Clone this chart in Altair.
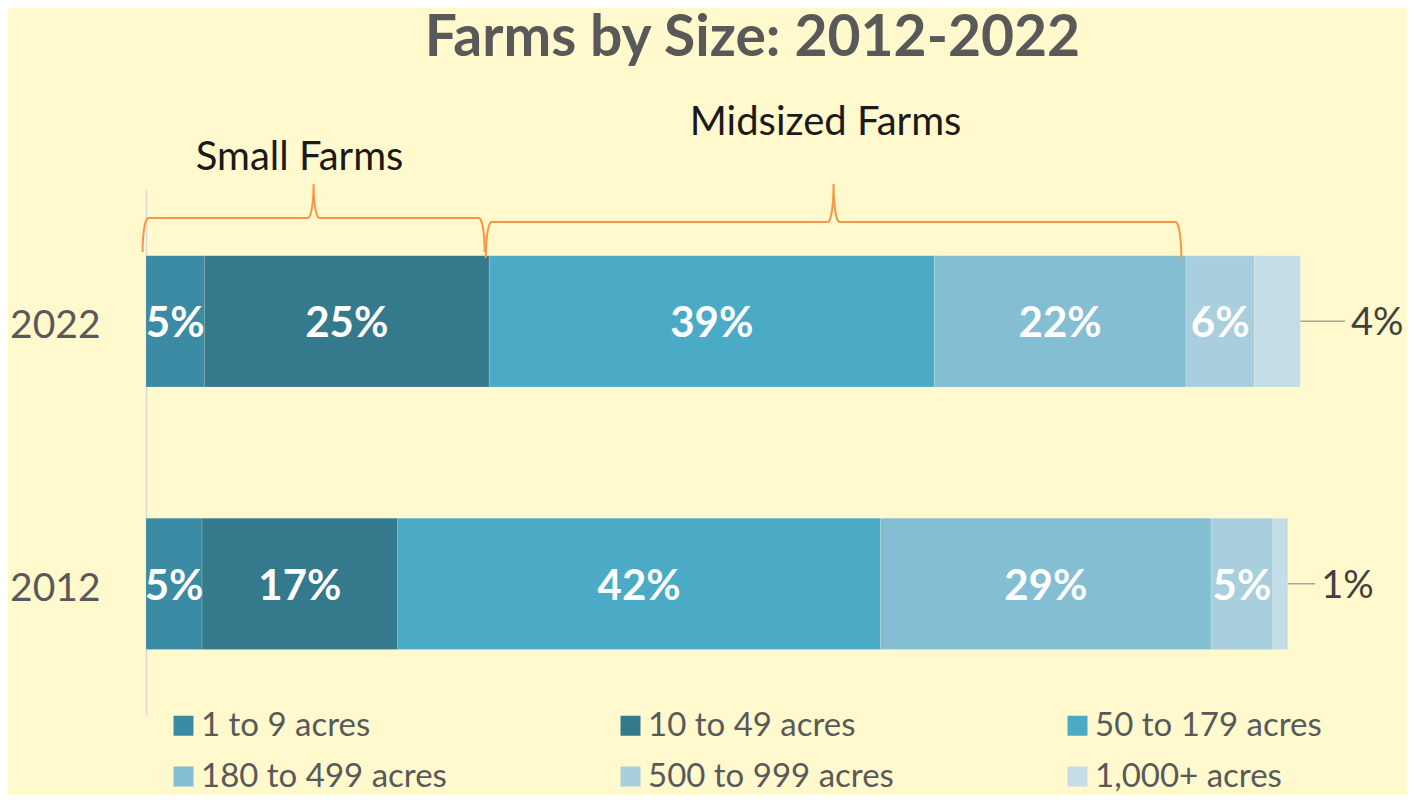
import altair as alt
import pandas as pd
import numpy as np

# ---------------- data ----------------
years = ["2022", "2012"]
categories = ["1 to 9 acres", "10 to 49 acres", "50 to 179 acres",
              "180 to 499 acres", "500 to 999 acres", "1,000+ acres"]
share_2022 = [5.1, 24.9, 38.9, 22.0, 6.0, 4.0]
share_2012 = [4.9, 17.1, 42.2, 28.9, 5.4, 1.3]
group_names = ["Small Farms", "Midsized Farms"]
group_members = [[0, 1], [2, 3]]

# ---------------- styles ----------------
colors = ["#3b8ba5", "#34798c", "#4babc7", "#84bed2", "#a9cfde", "#c5dde7"]
BG = "#fff9cd"
FONT = "Lato"
W, H = 1247, 525
XMAX = 109
leader_len = {"2022": 3.9, "2012": 2.4}
brace_style = {"Small Farms": dict(tip=62, line=28, peak=-6, text_y=-20, text_dx=-14),
               "Midsized Farms": dict(tip=68, line=32, peak=-6, text_y=-55, text_dx=-8)}
CURL = 0.5

rows = []
for yr, vals in zip(years, [share_2022, share_2012]):
    start = 0.0
    for i, (c, v) in enumerate(zip(categories, vals)):
        rows.append(dict(year=yr, category=c, idx=i, start=start, end=start + v,
                         mid=start + v / 2, label=f"{round(v)}%",
                         lead_end=start + v + leader_len[yr]))
        start += v
df = pd.DataFrame(rows)

# braces built from the 2022 cumulative positions
cum = np.cumsum([0] + share_2022)
brace_rows, brace_text = [], []
th = np.linspace(0, np.pi / 2, 14)
for g, mem in zip(group_names, group_members):
    st = brace_style[g]
    x0 = cum[mem[0]] - 0.3
    x1 = cum[mem[-1] + 1] - 0.4
    xm = (x0 + x1) / 2
    tip, line, peak = st["tip"], st["line"], st["peak"]
    pts = []
    pts += [(x0 + CURL * (1 - np.cos(t)), tip - (tip - line) * np.sin(t)) for t in th]
    pts += [(xm - CURL + CURL * np.sin(t), line - (line - peak) * (1 - np.cos(t))) for t in th]
    pts += [(xm + CURL - CURL * np.sin(t), line - (line - peak) * (1 - np.cos(t))) for t in th[::-1]]
    pts += [(x1 - CURL * (1 - np.cos(t)), tip - (tip - line) * np.sin(t)) for t in th[::-1]]
    for k, (px, py) in enumerate(pts):
        brace_rows.append(dict(group=g, seq=k, bx=px, by=py))
    brace_text.append(dict(group=g, bx=xm + st["text_dx"] * XMAX / W, by=st["text_y"]))
bdf = pd.DataFrame(brace_rows)
tdf = pd.DataFrame(brace_text)

xscale = alt.Scale(domain=[0, XMAX], nice=False, zero=False)
yenc = alt.Y("year:N", sort=years,
             scale=alt.Scale(paddingInner=0.5, paddingOuter=0.25),
             axis=alt.Axis(title=None, ticks=False, labelFontSize=39, labelFont=FONT,
                           labelColor="#595959", labelPadding=46, labelOffset=5,
                           domainColor="#d9d9d9", domainWidth=1.5, grid=False))

base = alt.Chart(df)

bars = base.mark_bar(stroke="#ffffff", strokeWidth=0.5, strokeOpacity=0.25).encode(
    x=alt.X("start:Q", scale=xscale, axis=None),
    x2="end:Q",
    y=yenc,
    color=alt.Color("category:N",
                    scale=alt.Scale(domain=categories, range=colors),
                    legend=alt.Legend(title=None, orient="none", legendX=21, legendY=519,
                                      direction="horizontal", columns=3,
                                      symbolType="square", symbolSize=400,
                                      symbolStrokeWidth=0, labelFontSize=33, labelFont=FONT,
                                      labelColor="#595959", labelLimit=500,
                                      columnPadding=167, rowPadding=17, labelOffset=1,
                                      padding=0)),
)

inside = base.transform_filter(alt.datum.idx < 5).mark_text(
    color="white", font=FONT, fontWeight="bold", fontSize=42, baseline="middle", dy=3
).encode(x=alt.X("mid:Q", scale=xscale), y=yenc, text="label:N")

last = base.transform_filter(alt.datum.idx == 5)
leader = last.mark_rule(color="#a6a6a6", strokeWidth=1.5).encode(
    x=alt.X("end:Q", scale=xscale), x2="lead_end:Q", y=yenc)
outside = last.mark_text(color="#404040", font=FONT, fontSize=38, align="left",
                         baseline="middle", dx=6, dy=3).encode(
    x=alt.X("lead_end:Q", scale=xscale), y=yenc, text="label:N")

main = alt.layer(bars, inside, leader, outside)

yb = alt.Scale(domain=[0, H], reverse=True, nice=False, zero=False)
braces = alt.Chart(bdf).mark_line(color="#f79646", strokeWidth=2).encode(
    x=alt.X("bx:Q", scale=xscale),
    y=alt.Y("by:Q", scale=yb, axis=None),
    detail="group:N",
    order="seq:Q",
)
brace_labels = alt.Chart(tdf).mark_text(color="#1a1a1a", font=FONT, fontSize=40,
                                        baseline="alphabetic").encode(
    x=alt.X("bx:Q", scale=xscale),
    y=alt.Y("by:Q", scale=yb, axis=None),
    text="group:N",
)
annot = alt.layer(braces, brace_labels)

chart = alt.layer(main, annot).resolve_scale(y="independent").properties(
    width=W, height=H,
    autosize=alt.AutoSizeParams(type="none"),
    padding={"left": 138, "top": 182, "right": 14, "bottom": 80},
    background=BG,
    title=alt.Title("Farms by Size: 2012-2022", font=FONT, fontSize=57, fontWeight="bold",
                    color="#595959", anchor="middle", dx=-17, offset=35),
).configure_view(stroke="transparent")

chart.save("out.html", embed_options={"renderer": "svg", "actions": False})
